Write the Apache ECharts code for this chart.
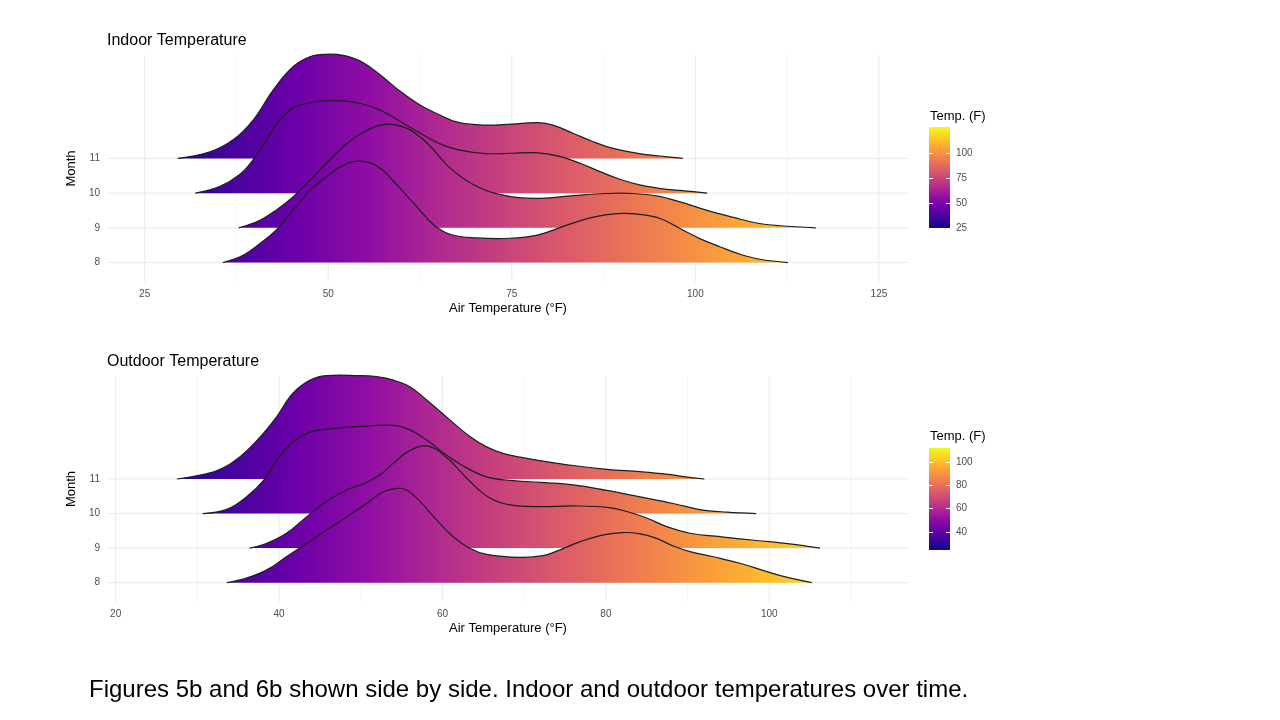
<!DOCTYPE html>
<html>
<head>
<meta charset="utf-8">
<title>Indoor and outdoor temperature ridgelines</title>
<script src="https://cdn.jsdelivr.net/npm/echarts@6/dist/echarts.min.js"></script>
<style>
  html, body { margin: 0; padding: 0; background: #fff; }
  #main { width: 1280px; height: 720px; }
</style>
</head>
<body>
<div id="main"></div>
<script>
// months on the y axis, back to front is 11 -> 8
var months = [8, 9, 10, 11];

// ridge outlines: [air temperature (F), ridge height above its month line]
var indoor8 = [[35.65,0],[38.4,0.21],[40.7,0.55],[42.9,0.93],[45.2,1.51],[47.5,2.08],[49.75,2.47],[52.0,2.80],[54.3,2.92],[56.8,2.76],[59.5,2.20],[62.3,1.55],[64.5,1.06],[66.8,0.80],[70.2,0.71],[74.7,0.70],[78.6,0.80],[82.4,1.07],[86.1,1.31],[89.3,1.41],[92.4,1.39],[95.2,1.27],[97.9,0.98],[100.6,0.69],[103.4,0.45],[106.1,0.24],[108.8,0.095],[112.6,0]];
var indoor9 = [[37.8,0],[40.7,0.22],[42.9,0.51],[45.2,0.89],[47.5,1.37],[49.75,1.86],[52.0,2.33],[54.3,2.70],[56.6,2.93],[58.4,2.99],[60.6,2.88],[62.5,2.62],[64.0,2.33],[66.2,1.80],[68.7,1.38],[71.0,1.12],[73.0,0.98],[76.0,0.87],[79.0,0.85],[83.4,0.93],[87.9,0.99],[91.5,0.99],[94.7,0.92],[97.9,0.75],[101.5,0.51],[105.2,0.30],[108.3,0.14],[111.5,0.06],[116.4,0]];
var indoor10 = [[31.9,0],[35.2,0.19],[37.9,0.53],[39.75,0.96],[41.6,1.54],[43.4,2.11],[45.2,2.45],[47.5,2.61],[49.75,2.66],[52.0,2.66],[54.3,2.59],[57.0,2.40],[59.7,2.08],[62.5,1.73],[65.2,1.42],[67.9,1.24],[71.5,1.14],[75.0,1.15],[78.6,1.16],[81.5,1.06],[84.3,0.86],[87.0,0.62],[89.7,0.40],[92.4,0.24],[96.1,0.11],[98.8,0.06],[101.6,0]];
var indoor11 = [[29.5,0],[33.9,0.19],[37.0,0.53],[39.75,1.10],[42.5,1.97],[45.2,2.64],[47.5,2.93],[49.75,3.0],[52.0,2.97],[54.3,2.81],[57.0,2.42],[59.7,1.95],[62.5,1.54],[65.2,1.25],[67.9,1.03],[71.5,0.96],[75.0,0.99],[78.6,1.03],[80.6,0.96],[83.4,0.72],[86.1,0.48],[88.8,0.29],[92.4,0.14],[95.2,0.07],[98.3,0]];

var outdoor8 = [[33.6,0],[36.0,0.13],[38.5,0.37],[40.9,0.75],[43.4,1.14],[45.8,1.52],[48.3,1.91],[50.7,2.29],[52.75,2.63],[54.4,2.73],[55.6,2.68],[57.25,2.35],[59.3,1.81],[61.3,1.33],[63.4,0.99],[65.4,0.82],[69.5,0.73],[72.3,0.78],[74.4,0.95],[76.8,1.18],[79.7,1.38],[82.1,1.45],[84.2,1.41],[86.2,1.28],[88.25,1.06],[90.3,0.90],[93.15,0.75],[96.4,0.56],[99.7,0.32],[102.1,0.16],[105.2,0]];
var outdoor9 = [[36.4,0],[38.5,0.14],[40.9,0.43],[43.4,0.91],[45.8,1.35],[48.3,1.68],[50.7,1.90],[52.35,2.12],[54.0,2.46],[56.0,2.82],[58.2,2.95],[60.5,2.62],[63.4,1.92],[65.8,1.45],[68.3,1.25],[71.9,1.20],[76.0,1.22],[80.1,1.18],[82.55,1.06],[85.0,0.87],[87.45,0.62],[90.3,0.43],[94.4,0.32],[98.45,0.22],[102.5,0.12],[106.2,0]];
var outdoor10 = [[30.65,0],[33.6,0.12],[36.0,0.48],[38.1,0.96],[39.7,1.54],[41.7,2.07],[43.8,2.36],[45.8,2.44],[49.9,2.52],[54.0,2.55],[56.0,2.42],[58.1,2.12],[60.1,1.76],[62.5,1.38],[65.4,1.06],[68.3,0.96],[71.9,0.90],[76.0,0.83],[80.1,0.67],[84.2,0.48],[88.25,0.29],[91.5,0.115],[94.8,0.04],[98.4,0]];
var outdoor11 = [[27.5,0],[30.3,0.11],[32.8,0.28],[35.2,0.64],[37.7,1.22],[39.7,1.80],[41.7,2.48],[43.8,2.86],[45.8,2.99],[49.9,2.99],[51.9,2.96],[54.0,2.86],[56.0,2.67],[58.1,2.28],[60.9,1.71],[63.4,1.22],[65.4,0.93],[67.4,0.74],[69.5,0.63],[72.0,0.53],[76.0,0.39],[80.1,0.28],[84.2,0.21],[87.4,0.14],[89.5,0.07],[92.05,0]];

// axis ticks
var indoorTicks = [25, 50, 75, 100, 125];
var indoorMinor = [37.5, 62.5, 87.5, 112.5];
var outdoorTicks = [20, 40, 60, 80, 100];
var outdoorMinor = [30, 50, 70, 90, 110];
var indoorXRange = [19.87, 129.09];
var outdoorXRange = [18.94, 117.1];
var monthRange = [7.44, 13.98];

// colour bars
var indoorLegendTicks = [25, 50, 75, 100];
var outdoorLegendTicks = [40, 60, 80, 100];
var indoorColorRange = [25, 126.5];
var outdoorColorRange = [24.2, 112.6];

var plasma = ['#0d0887', '#41049d', '#6a00a8', '#8f0da4', '#b12a90', '#cc4778',
              '#e16462', '#f2844b', '#fca636', '#fcce25', '#f0f921'];

var stops = plasma.map(function (c, i) {
  return { offset: i / (plasma.length - 1), color: c };
});

var chart = echarts.init(document.getElementById('main'));

// ridges drawn back to front, filled with a gradient tied to the x scale
function ridgeSeries(idx, ridges, crange) {
  var order = months.slice().reverse();
  return {
    type: 'custom',
    xAxisIndex: idx,
    yAxisIndex: idx,
    z: 3,
    silent: true,
    data: order.map(function (m) { return [ridges[m][0][0], m]; }),
    renderItem: function (params, api) {
      var m = api.value(1);
      var pts = ridges[m].map(function (p) {
        return api.coord([p[0], m + p[1]]);
      });
      var a = api.coord([crange[0], m]);
      var b = api.coord([crange[1], m]);
      return {
        type: 'polyline',
        shape: { points: pts, smooth: 0.4 },
        style: {
          fill: new echarts.graphic.LinearGradient(a[0], 0, b[0], 0, stops, true),
          stroke: '#1e1e1e',
          lineWidth: 1.2
        }
      };
    }
  };
}

// light panel grid lines (vertical at x ticks, horizontal at months)
function vGridSeries(idx, major, minor) {
  var vals = major.map(function (v) { return [v, 1]; })
    .concat(minor.map(function (v) { return [v, 0]; }));
  return {
    type: 'custom', xAxisIndex: idx, yAxisIndex: idx, z: 1, silent: true,
    data: vals,
    renderItem: function (params, api) {
      var v = api.value(0);
      var p0 = api.coord([v, monthRange[0]]);
      var p1 = api.coord([v, monthRange[1]]);
      var isMajor = api.value(1) === 1;
      return {
        type: 'line',
        shape: { x1: p0[0], y1: p0[1], x2: p1[0], y2: p1[1] },
        style: { stroke: isMajor ? '#ebebeb' : '#f2f2f2', lineWidth: isMajor ? 1 : 0.8 }
      };
    }
  };
}

function hGridSeries(idx, xr) {
  return {
    type: 'custom', xAxisIndex: idx, yAxisIndex: idx, z: 1, silent: true,
    data: months.map(function (m) { return [xr[0], m]; }),
    renderItem: function (params, api) {
      var m = api.value(1);
      var p0 = api.coord([xr[0], m]);
      var p1 = api.coord([xr[1], m]);
      return {
        type: 'line',
        shape: { x1: p0[0], y1: p0[1], x2: p1[0], y2: p1[1] },
        style: { stroke: '#ebebeb', lineWidth: 1 }
      };
    }
  };
}

function colorBarSeries(xIdx, yIdx, crange) {
  return {
    type: 'custom', xAxisIndex: xIdx, yAxisIndex: yIdx, z: 2, silent: true,
    data: [[0, crange[0]]],
    renderItem: function (params, api) {
      var tl = api.coord([0, crange[1]]);
      var br = api.coord([1, crange[0]]);
      return {
        type: 'rect',
        shape: { x: tl[0], y: tl[1], width: br[0] - tl[0], height: br[1] - tl[1] },
        style: { fill: new echarts.graphic.LinearGradient(0, 1, 0, 0, stops) }
      };
    }
  };
}

var labelColor = '#4d4d4d';

function mainXAxis(grid, xr, ticks) {
  return {
    gridIndex: grid, type: 'value', min: xr[0], max: xr[1],
    axisLine: { show: false }, axisTick: { show: false }, splitLine: { show: false },
    axisLabel: { customValues: ticks, color: labelColor, fontSize: 10, margin: 7 },
    name: 'Air Temperature (°F)', nameLocation: 'middle', nameGap: 20,
    nameTextStyle: { color: '#000', fontSize: 13 }
  };
}

function mainYAxis(grid) {
  return {
    gridIndex: grid, type: 'value', min: monthRange[0], max: monthRange[1],
    axisLine: { show: false }, axisTick: { show: false }, splitLine: { show: false },
    axisLabel: { customValues: months, color: labelColor, fontSize: 10, margin: 7 },
    name: 'Month', nameLocation: 'middle', nameGap: 22, nameRotate: 90,
    nameTextStyle: { color: '#000', fontSize: 13 }
  };
}

function barYAxis(grid, pos, crange, ticks, withLabels) {
  return {
    gridIndex: grid, type: 'value', position: pos, min: crange[0], max: crange[1], z: 5,
    axisLine: { show: false }, splitLine: { show: false },
    axisTick: { show: true, inside: true, length: 4, customValues: ticks,
                lineStyle: { color: '#ffffff', width: 1 } },
    axisLabel: { show: withLabels, customValues: ticks, color: labelColor, fontSize: 10, margin: 6 }
  };
}

var option = {
  backgroundColor: '#fff',
  animation: false,
  textStyle: { fontFamily: 'Liberation Sans, Arial, Helvetica, sans-serif' },
  title: [
    { text: 'Indoor Temperature', left: 107, top: 33, padding: 0,
      textStyle: { fontSize: 16, fontWeight: 'normal', color: '#000' } },
    { text: 'Outdoor Temperature', left: 107, top: 354, padding: 0,
      textStyle: { fontSize: 16, fontWeight: 'normal', color: '#000' } },
    { text: 'Temp. (F)', left: 930, top: 110, padding: 0,
      textStyle: { fontSize: 13, fontWeight: 'normal', color: '#000' } },
    { text: 'Temp. (F)', left: 930, top: 430, padding: 0,
      textStyle: { fontSize: 13, fontWeight: 'normal', color: '#000' } },
    { text: 'Figures 5b and 6b shown side by side. Indoor and outdoor temperatures over time.',
      left: 89, top: 678, padding: 0,
      textStyle: { fontSize: 24, fontWeight: 'normal', color: '#000' } }
  ],
  grid: [
    { left: 107, top: 55, width: 802, height: 227 },
    { left: 107, top: 376, width: 802, height: 226 },
    { left: 929, top: 127, width: 21, height: 101 },
    { left: 929, top: 448, width: 21, height: 102 }
  ],
  xAxis: [
    mainXAxis(0, indoorXRange, indoorTicks),
    mainXAxis(1, outdoorXRange, outdoorTicks),
    { gridIndex: 2, type: 'value', min: 0, max: 1, show: false },
    { gridIndex: 3, type: 'value', min: 0, max: 1, show: false }
  ],
  yAxis: [
    mainYAxis(0),
    mainYAxis(1),
    barYAxis(2, 'left', indoorColorRange, indoorLegendTicks, false),
    barYAxis(2, 'right', indoorColorRange, indoorLegendTicks, true),
    barYAxis(3, 'left', outdoorColorRange, outdoorLegendTicks, false),
    barYAxis(3, 'right', outdoorColorRange, outdoorLegendTicks, true)
  ],
  series: [
    vGridSeries(0, indoorTicks, indoorMinor),
    hGridSeries(0, indoorXRange),
    ridgeSeries(0, { 8: indoor8, 9: indoor9, 10: indoor10, 11: indoor11 }, indoorColorRange),
    vGridSeries(1, outdoorTicks, outdoorMinor),
    hGridSeries(1, outdoorXRange),
    ridgeSeries(1, { 8: outdoor8, 9: outdoor9, 10: outdoor10, 11: outdoor11 }, outdoorColorRange),
    colorBarSeries(2, 3, indoorColorRange),
    colorBarSeries(3, 5, outdoorColorRange)
  ]
};

chart.setOption(option);
</script>
</body>
</html>
